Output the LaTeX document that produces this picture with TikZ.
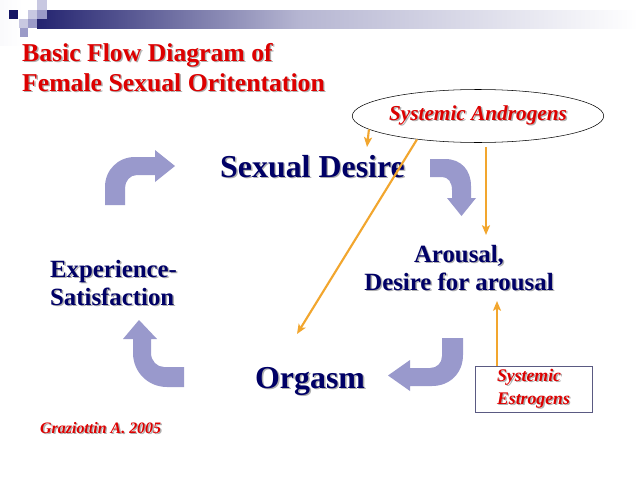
\documentclass[tikz,border=0pt]{standalone}
\usepackage{fontspec}
\setmainfont{Liberation Serif}
\usetikzlibrary{arrows.meta,shapes.geometric}
\definecolor{navy}{RGB}{0,0,102}
\definecolor{redt}{RGB}{221,0,0}
\definecolor{shadowc}{RGB}{175,175,175}
\definecolor{lav}{RGB}{153,153,204}
\definecolor{orng}{RGB}{242,166,46}
\definecolor{barnavy}{RGB}{36,36,112}
\definecolor{barmid}{RGB}{182,182,210}
\definecolor{boxc}{RGB}{90,90,130}
\definecolor{sqdark}{RGB}{20,20,100}
\definecolor{sqlight}{RGB}{200,200,225}
\definecolor{sqmid}{RGB}{155,155,200}
\newcommand{\shd}[1]{\makebox[0pt][l]{\hspace{1.6pt}\raisebox{-1.6pt}{\color{shadowc}#1}}#1}
\begin{document}
\begin{tikzpicture}[x=1.1285pt,y=-1.1285pt,
  titletxt/.style={inner sep=0pt, text=redt, font=\bfseries\fontsize{29}{32}\selectfont},
  bigtxt/.style={inner sep=0pt, text=navy, font=\bfseries\fontsize{36}{40}\selectfont},
  midtxt/.style={inner sep=0pt, text=navy, font=\bfseries\fontsize{28}{31.6}\selectfont},
  hormone/.style={text=redt, font=\bfseries\itshape\fontsize{24}{28}\selectfont},
  orarrow/.style={draw=orng, line width=2.4pt, -{Stealth[length=11pt,width=9pt,inset=2.5pt]}},
  blockarrow/.style={fill=lav, draw=none}]
\useasboundingbox (0,0) rectangle (638,479);
\fill[white] (0,0) rectangle (638,479);
% header decoration
\shade[left color=white!90!sqlight, right color=white] (0,0) rectangle (22,45);
\shade[left color=barnavy, right color=barmid] (37,10) rectangle (300,28);
\shade[left color=barmid, right color=white] (300,10) rectangle (638,28);
\fill[sqdark] (9,10) rectangle (18,19);
\fill[sqlight] (28,10) rectangle (37,19);
\fill[sqlight] (37,0) rectangle (47,10);
\fill[sqmid] (37,10) rectangle (47,19);
\fill[sqlight] (19,19) rectangle (28,28);
\fill[sqmid] (28,19) rectangle (37,28);
\fill[sqmid] (20,28) rectangle (28,37);
% titles
\node[titletxt, anchor=base west] (t1) at (22,61) {\shd{Basic Flow Diagram of}};
\node[titletxt, anchor=base west] (t2) at (22,91) {\shd{Female Sexual Oritentation}};
% main nodes
\node[bigtxt, anchor=base west] (desire) at (220,177) {\shd{Sexual Desire}};
\node[bigtxt, anchor=base west] (orgasm) at (255,388) {\shd{Orgasm}};
\node[midtxt, align=center, anchor=center] (arousal) at (459,268.5) {\shd{Arousal,}\\\shd{Desire for arousal}};
\node[midtxt, align=left, anchor=west] (exper) at (50,283.5) {\shd{Experience-}\\\shd{Satisfaction}};
\node[hormone, draw=black, line width=0.6pt, ellipse, inner sep=0pt, minimum width=259.6pt, minimum height=59.8pt] (andro) at (478,116) {\shd{Systemic Androgens}};
\node[draw=boxc, line width=0.8pt, inner sep=0pt, minimum width=132pt, minimum height=51.9pt, align=left, text=redt, font=\bfseries\itshape\fontsize{20}{26}\selectfont] (estro) at (533.5,389) {\shd{Systemic}\\\shd{Estrogens}};
\node[inner sep=0pt, anchor=base west, text=redt, font=\bfseries\itshape\fontsize{18}{22}\selectfont] (cite) at (40,433) {\shd{Graziottin A. 2005}};
% block arrows of the cycle
\fill[blockarrow] (105,205) -- (105,187) .. controls (105,170) and (118,157) .. (135,157) -- (155,157) -- (155,150) -- (175,166) -- (155,182) -- (155,175) -- (137,175) .. controls (130,175) and (125,181) .. (125,188) -- (125,205) -- cycle;
\fill[blockarrow] (430,159) -- (445,159) .. controls (461,159) and (471,170) .. (471,186) -- (471,198) -- (476,198) -- (461.5,216) -- (447,198) -- (452,198) -- (452,190) .. controls (452,182) and (448,177) .. (442,177) -- (430,177) -- cycle;
\fill[blockarrow] (442,338) -- (463,338) -- (463,355) .. controls (463,373) and (450,386) .. (432,386) -- (410,386) -- (410,391) -- (388,375.5) -- (410,360) -- (410,368) -- (430,368) .. controls (437,368) and (442,363) .. (442,356) -- cycle;
\fill[blockarrow] (184,367) -- (184,387) -- (167,387) .. controls (148,387) and (133,372) .. (133,353) -- (133,339) -- (123,339) -- (139,320) -- (157,339) -- (151,339) -- (151,353) .. controls (151,361) and (157,367) .. (164,367) -- cycle;
% hormone arrows
\coordinate (o1e) at (367,147);
\coordinate (o2e) at (297,334);
\coordinate (o3e) at (486,235);
\coordinate (o4e) at (497,301);
\draw[orarrow] (andro.187) -- (o1e);
\draw[orarrow] (andro.201) -- (o2e);
\draw[orarrow, shorten <=5pt] (andro.south -| o3e) -- (o3e);
\draw[orarrow] (estro.north -| o4e) -- (o4e);
\end{tikzpicture}
\end{document}
